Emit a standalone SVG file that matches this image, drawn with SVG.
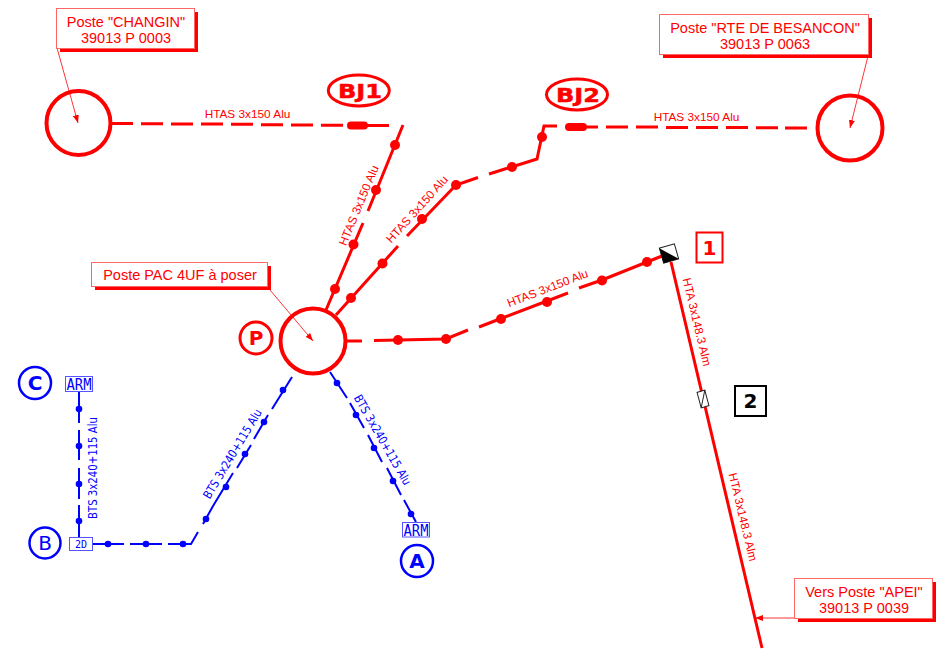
<svg xmlns="http://www.w3.org/2000/svg" width="946" height="662" viewBox="0 0 946 662">
<defs>
<style>
text{font-family:"Liberation Sans",Arial,sans-serif;text-anchor:middle}
.r{fill:#f00}.b{fill:#00f}
.box{fill:#fff;stroke:#f66;stroke-width:1}
.sh{fill:#f00}
.lab{font-size:14.5px}
.cab{font-size:11.8px}
.lr{stroke:#f00;stroke-width:3;fill:none}
.lb{stroke:#00f;stroke-width:2;fill:none}
.thick{stroke:#f00;stroke-width:8;stroke-linecap:round;fill:none}
.lead{stroke:#f00;stroke-width:.8;fill:none;marker-end:url(#ah)}
.post{fill:#fff;stroke:#f00;stroke-width:4}
.tag{font-family:"DejaVu Sans",sans-serif;font-weight:700}
.cabb{font-family:"DejaVu Sans",sans-serif;font-size:12px}
.arm{fill:#fff;stroke:#55f;stroke-width:1}
.mono{font-family:"DejaVu Sans Mono",monospace;fill:#00f}
</style>
<marker id="ah" viewBox="0 0 8 6" refX="8" refY="3" markerWidth="8" markerHeight="6" markerUnits="userSpaceOnUse" orient="auto"><path d="M0 0L8 3L0 6z" fill="#f00"/></marker>
</defs>
<rect width="946" height="662" fill="#fff"/>
<g id="connectors">
<path class="lr" d="M111 123.500H133M141 123.700H163M171 124H193M201 124H223M231 124.300H253M261 124.700H283M291 125H313M321 125.200H343M366 125.500H389"/>
<path class="thick" d="M351 125.500H364"/>
<path class="lr" d="M403 125L368 211M363 223L326 310"/>
<path class="lr" d="M336 315L398 246M407 236L456 185L478 177.500M489 174L537 159L544 126H557"/>
<path class="thick" d="M569 127H583"/>
<path class="lr" d="M585 127H598M606 127H628M636 127H658M666 127.500H688M696 127.500H718M726 127.500H748M756 127.700H778M785 128H807"/>
<path class="lr" d="M347 341H362M374 340.500L446 339L468 330M479 327L501 318.500L568 293M579 288L602 280L647 262L662 256"/>
<path class="lr" d="M671 262L762 648"/>
<path class="lb" d="M79 392V423M79 430V460M79 468V499M79 505V537"/>
<path class="lb" d="M92 544H124M130 544H162M168 544H191L198 532M213 506L217 500M233 473L237 468M251 445L254 439M268 415L272 409M292 377L272 409M254 439L268 415M237 468L251 445M217 500L233 473M198 532L213 506" stroke-dasharray="none" style="display:none"/>
<path class="lb" d="M92 544H124M130 544H162M168 544H191L198 532M213 506L233 473M237 468L251 445M254 439L268 415M272 409L292 377M203 524L213 506"/>
<path class="lb" d="M330 372L347 398M350 403L364 428M368 435L382 462M387 468L401 495M404 500L416 522"/>
</g>
<g id="cable-dots">
<g class="r">
<circle cx="395" cy="145" r="5"/><circle cx="376" cy="190" r="5"/><circle cx="353.500" cy="244.500" r="5"/><circle cx="335" cy="289" r="5"/>
<circle cx="351" cy="298" r="5"/><circle cx="382.500" cy="263.500" r="5"/><circle cx="422" cy="219" r="5"/><circle cx="456" cy="185" r="5"/><circle cx="512" cy="167" r="5"/><circle cx="542" cy="137" r="5"/>
<circle cx="398" cy="340" r="5"/><circle cx="446" cy="339" r="5"/><circle cx="501" cy="319" r="5"/><circle cx="547" cy="302" r="5"/><circle cx="602" cy="280.500" r="5"/><circle cx="647" cy="262" r="5"/>
</g>
<g class="b">
<circle cx="79" cy="409" r="3.300"/><circle cx="79" cy="446" r="3.300"/><circle cx="79" cy="484" r="3.300"/><circle cx="79" cy="521" r="3.300"/>
<circle cx="108" cy="544" r="3.300"/><circle cx="146" cy="544" r="3.300"/><circle cx="183" cy="544" r="3.300"/>
<circle cx="206" cy="519" r="3.300"/><circle cx="226" cy="487" r="3.300"/><circle cx="245" cy="454" r="3.300"/><circle cx="264" cy="422" r="3.300"/><circle cx="283" cy="390" r="3.300"/>
<circle cx="337" cy="383" r="3.300"/><circle cx="356" cy="415" r="3.300"/><circle cx="374" cy="448" r="3.300"/><circle cx="393" cy="481" r="3.300"/><circle cx="411" cy="514" r="3.300"/>
</g>
</g>
<g id="cable-labels">
<text class="r cab" x="247.500" y="117.500">HTAS 3x150 Alu</text>
<text class="r cab" x="696.500" y="121">HTAS 3x150 Alu</text>
<text class="r cab" transform="translate(362.500 207) rotate(-67.500)">HTAS 3x150 Alu</text>
<text class="r cab" transform="translate(420 212) rotate(-48)">HTAS 3x150 Alu</text>
<text class="r cab" transform="translate(549 292) rotate(-21)">HTAS 3x150 Alu</text>
<text class="r cab" transform="translate(693 323) rotate(76.500)">HTA 3x148.3 Alm</text>
<text class="r cab" transform="translate(739 518) rotate(76.500)">HTA 3x148.3 Alm</text>
<text class="b cabb" textLength="102" lengthAdjust="spacingAndGlyphs" transform="translate(97 468) rotate(-90)">BTS 3x240+115 Alu</text>
<text class="b cabb" textLength="102" lengthAdjust="spacingAndGlyphs" transform="translate(236 456) rotate(-59)">BTS 3x240+115 Alu</text>
<text class="b cabb" textLength="102" lengthAdjust="spacingAndGlyphs" transform="translate(379 442) rotate(60)">BTS 3x240+115 Alu</text>
</g>
<g id="poste-changin">
<circle class="post" cx="78.500" cy="123" r="32"/>
<path class="lead" d="M57 48L78 123"/>
<rect class="sh" x="60" y="12" width="138" height="40"/>
<rect class="box" x="56.500" y="8.500" width="138" height="40"/>
<text class="r lab" x="126" y="27">Poste "CHANGIN"</text><text class="r lab" x="126" y="43">39013 P 0003</text>
</g>
<g id="poste-rte">
<circle class="post" cx="850" cy="128" r="32.500"/>
<path class="lead" d="M868 56L850 128"/>
<rect class="sh" x="663" y="18" width="209" height="40"/>
<rect class="box" x="659.500" y="14.500" width="209" height="40"/>
<text class="r lab" x="765" y="33">Poste "RTE DE BESANCON"</text><text class="r lab" x="765" y="49">39013 P 0063</text>
</g>
<g id="poste-pac">
<circle class="post" cx="313" cy="341" r="32.500"/>
<path class="lead" d="M270 290L313 341"/>
<rect class="sh" x="95" y="266" width="176" height="24"/>
<rect class="box" x="91.500" y="262.500" width="176" height="24"/>
<text class="r lab" x="180" y="280">Poste PAC 4UF à poser</text>
</g>
<g id="poste-apei">
<path class="lead" d="M794 618H755"/>
<rect class="sh" x="798" y="582" width="138" height="40"/>
<rect class="box" x="794.500" y="578.500" width="138" height="40"/>
<text class="r lab" x="864" y="597">Vers Poste "APEI"</text><text class="r lab" x="864" y="613">39013 P 0039</text>
</g>
<g id="bj1"><ellipse cx="358.800" cy="90.500" rx="30.500" ry="15.500" fill="#fff" stroke="#f00" stroke-width="3"/><text class="r tag" x="360" y="98" font-size="20" textLength="44" lengthAdjust="spacingAndGlyphs" stroke="#f00" stroke-width=".5">BJ1</text></g>
<g id="bj2"><ellipse cx="577" cy="94.500" rx="30.500" ry="15.500" fill="#fff" stroke="#f00" stroke-width="3"/><text class="r tag" x="578" y="101.500" font-size="20" textLength="44" lengthAdjust="spacingAndGlyphs" stroke="#f00" stroke-width=".5">BJ2</text></g>
<g id="p"><circle cx="256" cy="338" r="16" fill="#fff" stroke="#f00" stroke-width="3"/><text class="r tag" x="256" y="345" font-size="20">P</text></g>
<g id="c"><circle cx="35" cy="383" r="16" fill="#fff" stroke="#00f" stroke-width="2.500"/><text class="b tag" x="35" y="390" font-size="20">C</text></g>
<g id="b"><circle cx="45" cy="543" r="15.500" fill="#fff" stroke="#00f" stroke-width="2.500"/><text class="b" style="font-family:'DejaVu Sans',sans-serif" x="45" y="550" font-size="20">B</text></g>
<g id="a"><circle cx="417" cy="561" r="16" fill="#fff" stroke="#00f" stroke-width="2.500"/><text class="b tag" x="417" y="568" font-size="20">A</text></g>
<g id="arm-c"><rect class="arm" x="65.500" y="376.500" width="27" height="15"/><text class="mono" x="79" y="390" font-size="16" textLength="25" lengthAdjust="spacingAndGlyphs">ARM</text></g>
<g id="arm-a"><rect class="arm" x="402.500" y="522.500" width="27" height="14.500"/><text class="mono" x="416" y="535.500" font-size="16" textLength="25" lengthAdjust="spacingAndGlyphs">ARM</text></g>
<g id="box-2d"><rect class="arm" x="69.500" y="537.500" width="23" height="13"/><text class="mono" x="81" y="548" font-size="10">2D</text></g>
<g id="sw1"><g transform="translate(669 253.500) rotate(-16)"><rect x="-7.800" y="-7.800" width="15.600" height="15.600" fill="#fff" stroke="#222" stroke-width="1"/><path d="M-7.800 -7.800V7.800H7.800z" fill="#000"/></g></g>
<g id="sw2"><g transform="translate(703 399) rotate(-15)"><rect x="-4" y="-8" width="8" height="16" fill="#fff" stroke="#222" stroke-width="1"/><path d="M-4 8L4 -8" stroke="#222" fill="none"/></g></g>
<g id="n1"><rect x="696.500" y="232.500" width="26" height="30" fill="#fff" stroke="#f00" stroke-width="2"/><text class="r tag" x="709.500" y="255" font-size="20">1</text></g>
<g id="n2"><rect x="735" y="386" width="31" height="30" fill="#fff" stroke="#000" stroke-width="2"/><text class="tag" x="750.500" y="408" font-size="20" fill="#000">2</text></g>
</svg>
